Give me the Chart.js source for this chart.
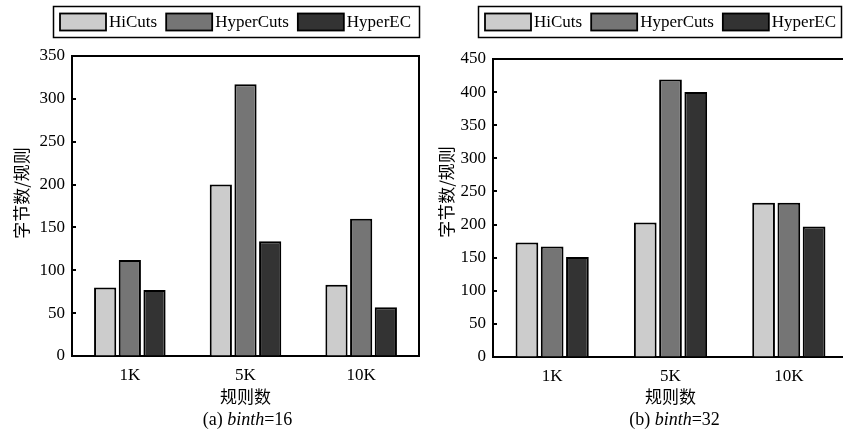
<!DOCTYPE html>
<html>
<head>
<meta charset="utf-8">
<script src="https://cdn.jsdelivr.net/npm/chart.js@4.4.1/dist/chart.umd.min.js"></script>
<style>
  html, body { margin: 0; padding: 0; background: #fff; overflow: hidden; width: 843px; height: 432px; }
  .panel { position: absolute; top: 0; height: 432px; }
  #p1 { left: 0; width: 421px; }
  #p2 { left: 421px; width: 427px; }
  canvas { display: block; }
</style>
</head>
<body>
<div class="panel" id="p1"><canvas id="c1" width="421" height="432"></canvas></div>
<div class="panel" id="p2"><canvas id="c2" width="427" height="432"></canvas></div>
<script>
// Rule-set sizes on the x axis
const categories = ['1K', '5K', '10K'];

// Algorithms and their fills
const seriesNames = ['HiCuts', 'HyperCuts', 'HyperEC'];
const seriesColors = ['#cccccc', '#757575', '#333333'];

// Bytes per rule, binth = 16
const binth16HiCuts    = [80, 200, 83];
const binth16HyperCuts = [112, 317, 160];
const binth16HyperEC   = [77, 134, 57];

// Bytes per rule, binth = 32
const binth32HiCuts    = [173, 203, 233];
const binth32HyperCuts = [167, 419, 233];
const binth32HyperEC   = [151, 400, 197];

// Value axis ranges
const yMax16 = 350;
const yMax32 = 450;
const yStep = 50;

const yTitle = '字节数/规则';
const xTitle = '规则数';

const SERIF = '"Liberation Serif", "Times New Roman", serif';
const CJK = '"Noto Sans CJK SC", "Noto Sans CJK JP", sans-serif';

Chart.defaults.font.family = SERIF;
Chart.defaults.font.size = 17;
Chart.defaults.color = '#000';

// Frame, inward y ticks, boxed legend, rotated y title and the panel caption
const panelDecor = {
  id: 'panelDecor',
  afterDraw(chart, args, opts) {
    const ctx = chart.ctx;
    const a = chart.chartArea;
    ctx.save();

    // top and right edges of the plot box
    ctx.strokeStyle = '#000';
    ctx.lineWidth = 2;
    ctx.beginPath();
    ctx.moveTo(a.left, a.top);
    ctx.lineTo(a.right, a.top);
    ctx.lineTo(a.right, a.bottom);
    ctx.stroke();

    // short tick marks pointing into the plot
    const ys = chart.scales.y;
    ctx.lineWidth = 2;
    ys.ticks.forEach(t => {
      const py = Math.round(ys.getPixelForValue(t.value));
      ctx.beginPath();
      ctx.moveTo(a.left, py);
      ctx.lineTo(a.left + 4, py);
      ctx.stroke();
    });

    // legend
    const lg = opts.legend;
    ctx.lineWidth = 1.5;
    ctx.strokeRect(lg.x + 0.5, lg.y + 0.5, lg.w, lg.h);
    ctx.font = '17px ' + SERIF;
    ctx.textBaseline = 'middle';
    ctx.textAlign = 'left';
    const cy = lg.y + lg.h / 2 + 0.5;
    let x = lg.x + 7;
    chart.data.datasets.forEach(ds => {
      ctx.fillStyle = ds.backgroundColor;
      ctx.fillRect(x, cy - 8.5, 46, 17);
      ctx.lineWidth = 1.8;
      ctx.strokeStyle = '#000';
      ctx.strokeRect(x, cy - 8.5, 46, 17);
      ctx.fillStyle = '#000';
      ctx.fillText(ds.label, x + 49, cy + 1);
      x += 49 + ctx.measureText(ds.label).width + 9;
    });

    // y title
    ctx.save();
    ctx.translate(opts.yTitleX, opts.yTitleY);
    ctx.rotate(-Math.PI / 2);
    ctx.font = '17px ' + CJK;
    ctx.textAlign = 'center';
    ctx.textBaseline = 'middle';
    ctx.fillText(yTitle, 0, 0);
    ctx.restore();

    // caption: "(a) binth=16"
    const parts = [
      { t: opts.caption[0], f: '18px ' + SERIF },
      { t: opts.caption[1], f: 'italic 18px ' + SERIF },
      { t: opts.caption[2], f: '18px ' + SERIF }
    ];
    let total = 0;
    parts.forEach(p => { ctx.font = p.f; p.w = ctx.measureText(p.t).width; total += p.w; });
    let cx = (a.left + a.right) / 2 + opts.captionDx - total / 2;
    ctx.textBaseline = 'middle';
    ctx.textAlign = 'left';
    parts.forEach(p => { ctx.font = p.f; ctx.fillText(p.t, cx, opts.captionY); cx += p.w; });

    ctx.restore();
  }
};

function makeChart(canvasId, hi, hyper, ec, yMax, xAxisHeight, pad, decor) {
  const values = [hi, hyper, ec];
  return new Chart(document.getElementById(canvasId), {
    type: 'bar',
    data: {
      labels: categories,
      datasets: seriesNames.map((name, i) => ({
        label: name,
        data: values[i],
        backgroundColor: seriesColors[i],
        borderColor: '#000',
        borderWidth: 2,
        borderSkipped: 'start',
        categoryPercentage: 0.64,
        barPercentage: 0.9
      }))
    },
    options: {
      responsive: false,
      animation: false,
      layout: { padding: pad },
      plugins: {
        legend: { display: false },
        tooltip: { enabled: false },
        panelDecor: decor
      },
      scales: {
        x: {
          type: 'category',
          offset: true,
          grid: { drawOnChartArea: false, drawTicks: false },
          border: { display: true, color: '#000', width: 2 },
          ticks: { padding: 9, color: '#000', font: { size: 17, family: SERIF } },
          title: {
            display: true,
            text: xTitle,
            color: '#000',
            font: { size: 17, family: CJK },
            padding: { top: 0, bottom: 25 }
          },
          afterFit(s) { s.height = xAxisHeight; }
        },
        y: {
          min: 0,
          max: yMax,
          grid: { drawOnChartArea: false, drawTicks: false },
          border: { display: true, color: '#000', width: 2 },
          ticks: { stepSize: yStep, padding: 7, color: '#000', font: { size: 17, family: SERIF } },
          afterFit(s) { s.width = 72; }
        }
      }
    },
    plugins: [panelDecor]
  });
}

makeChart('c1', binth16HiCuts, binth16HyperCuts, binth16HyperEC, yMax16, 76,
  { top: 56, right: 2, bottom: 0, left: 0 },
  {
    legend: { x: 53, y: 6, w: 366, h: 31 },
    yTitleX: 22, yTitleY: 193,
    caption: ['(a) ', 'binth', '=16'],
    captionY: 420, captionDx: 2
  });

makeChart('c2', binth32HiCuts, binth32HyperCuts, binth32HyperEC, yMax32, 75,
  { top: 59, right: 0, bottom: 0, left: 0 },
  {
    legend: { x: 57, y: 6, w: 363, h: 31 },
    yTitleX: 26, yTitleY: 192,
    caption: ['(b) ', 'binth', '=32'],
    captionY: 420, captionDx: 4
  });
</script>
</body>
</html>
